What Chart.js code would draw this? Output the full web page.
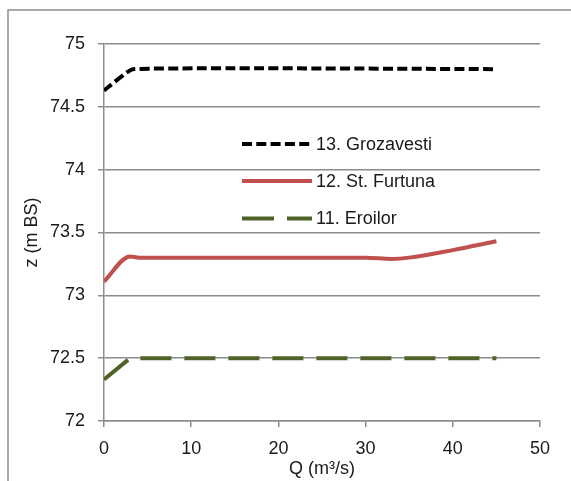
<!DOCTYPE html>
<html>
<head>
<meta charset="utf-8">
<title>Water level vs discharge</title>
<script src="https://cdn.jsdelivr.net/npm/chart.js@4/dist/chart.umd.min.js"></script>
<style>
  html, body { margin: 0; padding: 0; background: #fff; }
  #wrap { width: 571px; height: 481px; }
</style>
</head>
<body>
<div id="wrap"><canvas id="c" width="571" height="481"></canvas></div>
<script>
// Water surface elevation z (m BS) against discharge Q (m3/s) at three sections
const seriesNames = ['13. Grozavesti', '12. St. Furtuna', '11. Eroilor'];

const qGrozavesti = [0, 3.3, 45];
const zGrozavesti = [74.63, 74.80, 74.80];

const qFurtuna = [0, 3, 4, 10, 20, 30, 33, 35, 40, 45];
const zFurtuna = [73.11, 73.31, 73.30, 73.30, 73.30, 73.30, 73.29, 73.30, 73.36, 73.43];

const qEroilor = [0, 3, 45];
const zEroilor = [72.33, 72.50, 72.50];

const xTicks = [0, 10, 20, 30, 40, 50];
const yTicks = [72, 72.5, 73, 73.5, 74, 74.5, 75];

const FONT = '"Liberation Sans", Arial, sans-serif';
const FSIZE = 18;
const GRID = '#8c8c8c';
const TEXT = '#1a1a1a';

function pairs(xs, ys) { return xs.map((x, i) => ({ x: x, y: ys[i] })); }

// Frame around the chart (top and left edges)
const framePlugin = {
  id: 'frame',
  beforeDraw(chart) {
    const ctx = chart.ctx;
    ctx.save();
    ctx.strokeStyle = GRID;
    ctx.lineWidth = 1.5;
    ctx.beginPath();
    ctx.moveTo(8, chart.height);
    ctx.lineTo(8, 10);
    ctx.lineTo(chart.width, 10);
    ctx.stroke();
    ctx.restore();
  }
};

// Legend drawn inside the plot area
const innerLegend = {
  id: 'innerLegend',
  afterDatasetsDraw(chart) {
    const ctx = chart.ctx;
    const x0 = 242, x1 = 312, tx = 316;
    const rows = [144, 181, 218.5];
    ctx.save();
    chart.data.datasets.forEach((ds, i) => {
      const y = rows[i];
      ctx.strokeStyle = ds.borderColor;
      ctx.lineWidth = ds.borderWidth;
      ctx.setLineDash(ds.legendDash || []);
      ctx.lineCap = 'butt';
      ctx.beginPath();
      ctx.moveTo(x0, y);
      ctx.lineTo(x1, y);
      ctx.stroke();
      ctx.setLineDash([]);
      ctx.fillStyle = TEXT;
      ctx.font = FSIZE + 'px ' + FONT;
      ctx.textBaseline = 'middle';
      ctx.textAlign = 'left';
      ctx.fillText(ds.label, tx, y + 1);
    });
    ctx.restore();
  }
};

new Chart(document.getElementById('c'), {
  type: 'line',
  data: {
    datasets: [
      {
        label: seriesNames[0],
        data: pairs(qGrozavesti, zGrozavesti),
        borderColor: '#000000',
        borderWidth: 4,
        borderDash: [10, 4.3],
        legendDash: [10, 4.3],
        pointRadius: 0,
        tension: 0.1
      },
      {
        label: seriesNames[1],
        data: pairs(qFurtuna, zFurtuna),
        borderColor: '#c0504d',
        borderWidth: 4,
        pointRadius: 0,
        cubicInterpolationMode: 'monotone'
      },
      {
        label: seriesNames[2],
        data: pairs(qEroilor, zEroilor),
        borderColor: '#4f6228',
        borderWidth: 4,
        borderDash: [31, 13],
        legendDash: [32, 13],
        pointRadius: 0,
        tension: 0
      }
    ]
  },
  options: {
    responsive: false,
    animation: false,
    devicePixelRatio: 1,
    layout: { padding: { left: 0, top: 44, right: 31, bottom: 0 } },
    plugins: {
      legend: { display: false },
      tooltip: { enabled: false }
    },
    scales: {
      x: {
        type: 'linear',
        min: 0,
        max: 50,
        afterBuildTicks(scale) { scale.ticks = xTicks.map(v => ({ value: v })); },
        afterFit(scale) { scale.height = 60; },
        border: { color: GRID, width: 1.5 },
        grid: { drawOnChartArea: false, drawTicks: true, tickLength: 6, color: GRID, lineWidth: 1.5 },
        ticks: {
          color: TEXT, font: { family: FONT, size: FSIZE }, padding: 11, maxRotation: 0,
          callback: v => String(v)
        },
        title: {
          display: true,
          text: 'Q (m³/s)',
          color: TEXT,
          font: { family: FONT, size: FSIZE },
          padding: { top: 0, bottom: 1 }
        }
      },
      y: {
        type: 'linear',
        min: 72,
        max: 75,
        afterBuildTicks(scale) { scale.ticks = yTicks.map(v => ({ value: v })); },
        afterFit(scale) { scale.width = 104; },
        border: { color: GRID, width: 1.5 },
        grid: { drawTicks: true, tickLength: 6, color: GRID, lineWidth: 1.5 },
        ticks: {
          color: TEXT, font: { family: FONT, size: FSIZE }, padding: 13,
          callback: v => String(v)
        },
        title: {
          display: true,
          text: 'z (m BS)',
          color: TEXT,
          font: { family: FONT, size: FSIZE },
          padding: { top: 21, bottom: 0 }
        }
      }
    }
  },
  plugins: [framePlugin, innerLegend]
});
</script>
</body>
</html>
